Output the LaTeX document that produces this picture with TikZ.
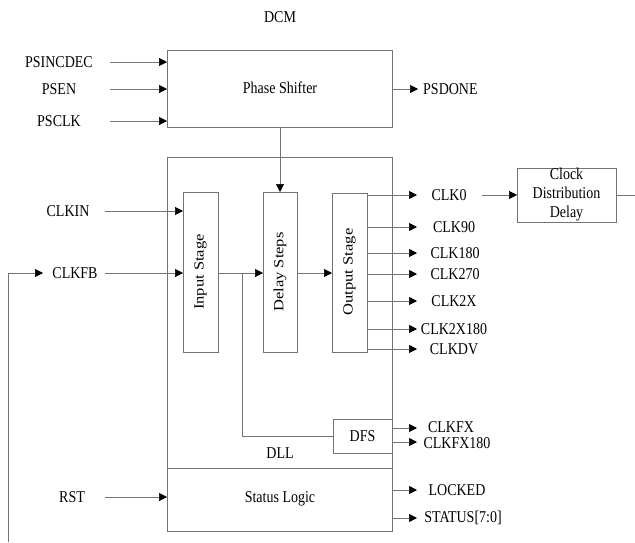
\documentclass[tikz,border=0pt]{standalone}
\usepackage{fontspec}
\usepackage{graphicx}
\setmainfont{Liberation Serif}
\usetikzlibrary{arrows.meta}
\definecolor{ln}{gray}{0.45}
\newcommand\talltxt[1]{\scalebox{1}[1.18]{#1}}
\newcommand\longtxt[1]{\scalebox{1.18}[1]{#1}}
\tikzset{
  lbl/.style={inner sep=0pt, font=\fontsize{14}{16}\selectfont},
  wire/.style={draw=ln, line width=0.7pt},
  arr/.style={wire, -{Triangle[length=8pt,width=8pt,color=black]}},
}
\begin{document}
\begin{tikzpicture}[x=1pt,y=-1pt]
\useasboundingbox (0,0) rectangle (635,542);
\fill[white] (0,0) rectangle (635,542);
% boxes
\draw[wire] (167,50) rectangle (392,127);
\node[lbl] (ps) at (280,88) {\talltxt{Phase Shifter}};
\draw[wire] (167,157) rectangle (392,468);
\draw[wire] (167,468) rectangle (392,531);
\node[lbl] (sl) at (280,499) {\talltxt{Status Logic}};
\node[lbl] (dll) at (280,453) {\talltxt{DLL}};
\node[lbl] (dcm) at (280,17) {\talltxt{DCM}};
% inner stages
\draw[wire] (183,192) rectangle (218,352);
\node[lbl,rotate=90] (is) at (200.5,272) {\longtxt{Input Stage}};
\draw[wire] (263,192) rectangle (297,352);
\node[lbl,rotate=90] (ds) at (280,272) {\longtxt{Delay Steps}};
\draw[wire] (332,193) rectangle (367,352);
\node[lbl,rotate=90] (os) at (349.5,272) {\longtxt{Output Stage}};
\draw[wire] (333,419) rectangle (392,453);
\node[lbl] (dfs) at (362.5,436) {\talltxt{DFS}};
\draw[wire] (517,168) rectangle (616,222);
\node[lbl] (cdd) at (566.5,195) {\talltxt{\begin{tabular}{@{}c@{}}Clock\\Distribution\\Delay\end{tabular}}};
% left inputs
\node[lbl] (psincdec) at (59,62) {\talltxt{PSINCDEC}};
\node[lbl] (psen) at (59,89) {\talltxt{PSEN}};
\node[lbl] (psclk) at (59,121) {\talltxt{PSCLK}};
\draw[arr] (110,62) -- (167,62);
\draw[arr] (110,89) -- (167,89);
\draw[arr] (110,121) -- (167,121);
\node[lbl,anchor=west] (psdone) at (423,89) {\talltxt{PSDONE}};
\draw[arr] (392,89) -- (418,89);
\node[lbl] (clkin) at (68,211) {\talltxt{CLKIN}};
\node[lbl] (clkfb) at (75,273) {\talltxt{CLKFB}};
\node[lbl] (rst) at (72,497) {\talltxt{RST}};
\draw[arr] (105,211) -- (183,211);
\draw[arr] (105,273) -- (183,273);
\draw[arr] (105,497) -- (167,497);
\draw[arr] (8,542) -- (8,273) -- (43,273);
% internal
\draw[arr] (280,127) -- (280,192);
\draw[arr] (218,273) -- (263,273);
\draw[arr] (297,273) -- (332,273);
\draw[wire] (242,273) -- (242,436) -- (333,436);
% outputs
\foreach \y/\t/\c in {195/CLK0/449,227/CLK90/454,253/CLK180/455,274/CLK270/455,301/CLK2X/454,329/CLK2X180/454,349/CLKDV/454}{
  \draw[arr] (367,\y) -- (417,\y);
  \node[lbl] at (\c,\y) {\talltxt{\t}};
}
\draw[arr] (482,195) -- (517,195);
\draw[wire] (616,195) -- (635,195);
\draw[arr] (392,428) -- (417,428);
\node[lbl] (clkfx) at (451,427) {\talltxt{CLKFX}};
\draw[arr] (392,442) -- (417,442);
\node[lbl] (clkfx180) at (457,443) {\talltxt{CLKFX180}};
\draw[arr] (392,490) -- (417,490);
\node[lbl] (locked) at (457,490) {\talltxt{LOCKED}};
\draw[arr] (392,518) -- (417,518);
\node[lbl] (status) at (463,518) {\talltxt{STATUS[7:0]}};
\end{tikzpicture}
\end{document}
